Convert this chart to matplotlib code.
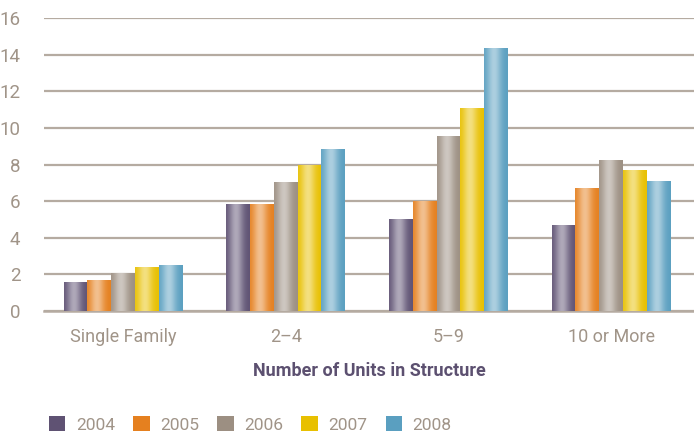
import matplotlib
matplotlib.use("Agg")
import matplotlib.pyplot as plt
import numpy as np
from matplotlib.patches import Patch
from matplotlib.colors import to_rgb

plt.rcParams["font.family"] = ["Liberation Sans Narrow", "DejaVu Sans Condensed",
                               "Roboto", "DejaVu Sans"]

categories = ["Single Family", "2\u20134", "5\u20139", "10 or More"]
years = ["2004", "2005", "2006", "2007", "2008"]
v2004 = [1.6, 5.85, 5.0, 4.7]
v2005 = [1.7, 5.85, 6.0, 6.7]
v2006 = [2.1, 7.05, 9.55, 8.25]
v2007 = [2.4, 8.0, 11.1, 7.7]
v2008 = [2.5, 8.85, 14.35, 7.1]
series = [v2004, v2005, v2006, v2007, v2008]
colors = ["#5f5273", "#e5801f", "#9c8f82", "#e8c000", "#5a9fc0"]

text_col = "#a09488"
grid_col = "#b5aba1"


def gradient_bars(ax, bars, color):
    # cylinder-like shading: dark edges, light stripe a bit left of centre
    base = np.array(to_rgb(color))
    t = np.linspace(0, 1, 64)
    w = np.exp(-((t - 0.42) / 0.3) ** 2) * 0.5
    row = base[None, :] * (1 - w[:, None]) + w[:, None]
    img = row[None, :, :]
    for b in bars:
        x0, y0 = b.get_x(), b.get_y()
        im = ax.imshow(img, extent=(x0, x0 + b.get_width(), y0, y0 + b.get_height()),
                       aspect="auto", zorder=3, interpolation="bilinear")
        im.set_clip_path(b)


fig = plt.figure(figsize=(6.94, 4.36), dpi=100)
ax = fig.add_axes([0.0634, 0.2867, 0.9366, 0.672])

x = np.arange(len(categories))
width = 0.146
for i, (vals, c) in enumerate(zip(series, colors)):
    bars = ax.bar(x + (i - 2) * width, vals, width, color=c, zorder=2, linewidth=0)
    gradient_bars(ax, bars, c)

ax.set_xlim(-0.486, 3.51)
ax.set_ylim(0, 16)
ax.set_yticks(np.arange(0, 17, 2))
ax.set_xticks(x)
ax.set_xticklabels(categories)
ax.yaxis.grid(True, color=grid_col, linewidth=1.6, zorder=0)
ax.set_axisbelow(True)
for s in ["top", "right", "left"]:
    ax.spines[s].set_visible(False)
ax.spines["bottom"].set_color(grid_col)
ax.spines["bottom"].set_linewidth(1.8)
ax.tick_params(axis="both", length=0, labelsize=13, colors=text_col)
ax.tick_params(axis="y", labelsize=13.5, pad=17)
ax.tick_params(axis="x", pad=12)

ax.set_xlabel("Number of Units in Structure", fontsize=13, fontweight="bold",
              color="#5c5070", labelpad=12)

handles = [Patch(facecolor=c, edgecolor="none") for c in colors]
fig.legend(handles, years, loc="lower left", bbox_to_anchor=(0.0706, 0.007), ncol=5,
           frameon=False, fontsize=12.5, labelcolor=text_col, handlelength=0.95,
           handleheight=0.95, columnspacing=1.05, handletextpad=0.6,
           borderpad=0, borderaxespad=0)

fig.savefig("out.png", dpi=100)
